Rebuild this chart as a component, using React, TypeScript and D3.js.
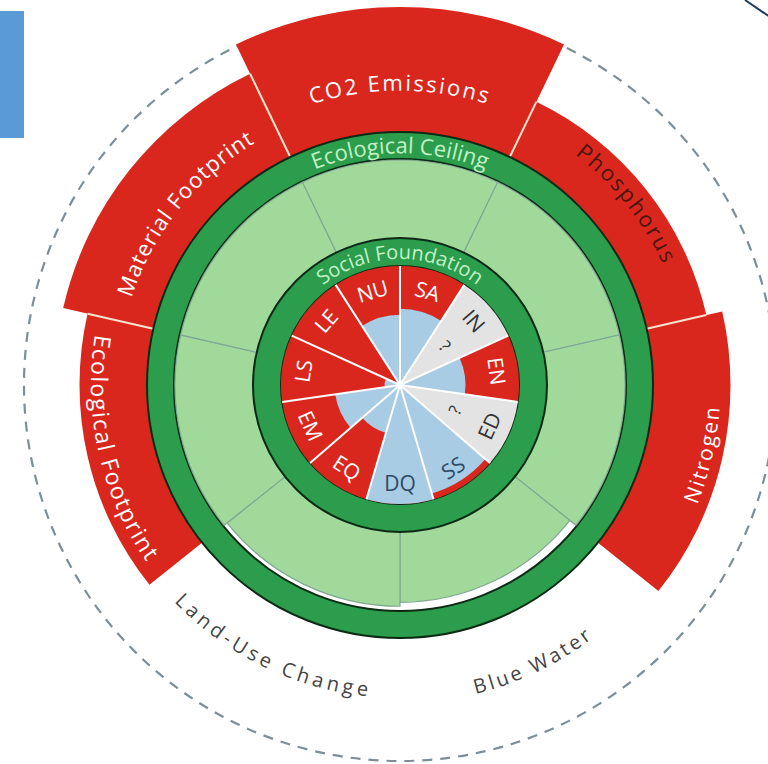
import React from "react";
import * as d3 from "d3";

const W = 768;
const H = 764;
const cx = 400;
const cy = 385;

// planetary boundaries, clockwise from the top
const boundaryNames = ["CO2 Emissions", "Phosphorus", "Nitrogen", "Blue Water", "Land-Use Change", "Ecological Footprint", "Material Footprint"];
// pressure relative to the boundary (1 = at the ecological ceiling)
const boundaryValues = [2.0, 1.49, 1.62, 0.89, 0.94, 1.54, 1.74];
const boundaryLabelColor = ["#fff", "#4a1612", "#fff", "#454545", "#454545", "#fff", "#fff"];

// social foundation, clockwise from the top
const socialCodes = ["SA", "IN", "EN", "ED", "SS", "DQ", "EQ", "EM", "LS", "LE", "NU"];
// share of the social threshold achieved, null = no data
const socialValues = [0.64, null, 0.55, null, 0.95, 1.0, 0.42, 0.55, 0.13, 0.04, 0.59];

const RED = "#da271d";
const DARK_GREEN = "#2b9d4c";
const LIGHT_GREEN = "#a1d99b";
const BLUE = "#a7cce3";
const GREY = "#e3e3e3";
const FONT = "'Open Sans', 'Noto Sans', sans-serif";

const rad = (deg: number) => (deg * Math.PI) / 180;
const pt = (r: number, deg: number) => [r * Math.sin(rad(deg)), -r * Math.cos(rad(deg))];

// arc for textPath; flip = read counter-clockwise (letter tops toward centre)
function arcPath(r: number, a0: number, a1: number, flip = false) {
  const [x0, y0] = pt(r, a0);
  const [x1, y1] = pt(r, a1);
  const large = a1 - a0 > 180 ? 1 : 0;
  return flip
    ? `M${x1},${y1} A${r},${r} 0 ${large} 0 ${x0},${y0}`
    : `M${x0},${y0} A${r},${r} 0 ${large} 1 ${x1},${y1}`;
}

export default function App() {
  const nB = boundaryNames.length;
  const nS = socialCodes.length;
  const step = 360 / nB;

  const ecoAngle = d3.scaleLinear().domain([0, nB]).range([-step / 2, 360 - step / 2]);
  const socAngle = d3.scaleLinear().domain([0, nS]).range([0, 360]);

  const rSocial = d3.scaleLinear().domain([0, 1]).range([0, 119]);
  const rSafe = d3.scaleLinear().domain([0, 1]).range([147, 226]);
  const rOver = d3.scaleLinear().domain([1, 2]).range([253, 378]);

  const arc = d3.arc<any>();
  const mk = (r0: number, r1: number, a0: number, a1: number) =>
    arc({ innerRadius: r0, outerRadius: r1, startAngle: rad(a0), endAngle: rad(a1) }) as string;

  const outerR = boundaryValues.map((v) => (v > 1 ? rOver(v) : 0));

  // label settings for the boundary names
  const bLabel = [
    { r: 302, fs: 22, ls: 2.2 },
    { r: 297, fs: 22, ls: 2 },
    { r: 313, fs: 21, ls: 2 },
    { r: 311, fs: 20, ls: 3 },
    { r: 306, fs: 20, ls: 4 },
    { r: 301, fs: 23, ls: 1.5 },
    { r: 290, fs: 22, ls: 1 },
  ];

  return (
    <svg width={W} height={H} style={{ position: "absolute", left: 0, top: 0, background: "#fff" }} fontFamily={FONT}>
      <rect x={0} y={11} width={24} height={127} fill="#5b9bd5" />
      <line x1={745} y1={0} x2={770} y2={17} stroke="#1f3a58" strokeWidth={2} />
      <g transform={`translate(${cx},${cy})`}>
        <circle r={376} fill="none" stroke="#7c8e98" strokeWidth={2.2} strokeDasharray="10 8" />

        {/* overshoot wedges */}
        {boundaryValues.map((v, i) =>
          v > 1 ? <path key={"o" + i} d={mk(252, rOver(v), ecoAngle(i), ecoAngle(i + 1))} fill={RED} /> : null
        )}
        {boundaryValues.map((v, i) => {
          const prev = outerR[(i - 1 + nB) % nB];
          const r1 = Math.min(prev, outerR[i]);
          if (r1 <= 0) return null;
          const [x0, y0] = pt(253, ecoAngle(i));
          const [x1, y1] = pt(r1, ecoAngle(i));
          return <line key={"os" + i} x1={x0} y1={y0} x2={x1} y2={y1} stroke="#f7e3cc" strokeWidth={2} />;
        })}

        {/* ecological ceiling ring */}
        <path d={mk(226, 253, 0, 360)} fill={DARK_GREEN} stroke="#0d2b14" strokeWidth={2} />

        {/* safe space wedges */}
        {boundaryValues.map((v, i) => (
          <path key={"s" + i} d={mk(147, v >= 1 ? 225 : rSafe(v), ecoAngle(i), ecoAngle(i + 1))} fill={LIGHT_GREEN} stroke="#7fa893" strokeWidth={1.2} />
        ))}

        {/* social foundation ring */}
        <path d={mk(119, 147, 0, 360)} fill={DARK_GREEN} stroke="#0d2b14" strokeWidth={2} />

        {/* social wedges */}
        {socialValues.map((v, i) => (
          <path key={"b" + i} d={mk(0, 119, socAngle(i), socAngle(i + 1))} fill={v === null ? GREY : RED} />
        ))}
        {socialValues.map((v, i) =>
          v === null ? null : <path key={"a" + i} d={mk(0, rSocial(v), socAngle(i), socAngle(i + 1))} fill={BLUE} />
        )}
        {socialCodes.map((c, i) => {
          const [x, y] = pt(119, socAngle(i));
          return <line key={"sl" + i} x1={0} y1={0} x2={x} y2={y} stroke="#fff" strokeWidth={2} />;
        })}
        {socialCodes.map((c, i) => {
          const m = (socAngle(i) + socAngle(i + 1)) / 2;
          const rot = m > 90 && m < 270 ? m - 180 : m;
          const v = socialValues[i];
          const col = v === null ? "#333" : v > 0.9 ? "#2d4a66" : "#fff";
          const [x, y] = pt(98, m);
          const [qx, qy] = pt(60, m);
          return (
            <g key={"t" + i}>
              <text transform={`translate(${x},${y}) rotate(${rot})`} textAnchor="middle" dominantBaseline="central" fontSize={21} fill={col}>
                {c}
              </text>
              {v === null && (
                <text transform={`translate(${qx},${qy}) rotate(${rot})`} textAnchor="middle" dominantBaseline="central" fontSize={17} fill="#333">
                  ?
                </text>
              )}
            </g>
          );
        })}

        {/* ring titles */}
        <defs>
          <path id="socRing" d={arcPath(133 - 7, -70, 70)} />
          <path id="ecoRing" d={arcPath(239.5 - 7.7, -40, 40)} />
          {boundaryNames.map((n, i) => {
            const m = (ecoAngle(i) + ecoAngle(i + 1)) / 2;
            const flip = m > 70 && m < 290;
            const L = bLabel[i];
            const rb = flip ? L.r + 0.35 * L.fs : L.r - 0.35 * L.fs;
            return <path key={"p" + i} id={"bp" + i} d={arcPath(rb, m - 45, m + 45, flip)} />;
          })}
        </defs>
        <text fontSize={20} fill="#c2f1c6">
          <textPath href="#socRing" startOffset="50%" textAnchor="middle">Social Foundation</textPath>
        </text>
        <text fontSize={22} fill="#c2f1c6">
          <textPath href="#ecoRing" startOffset="50%" textAnchor="middle">Ecological Ceiling</textPath>
        </text>
        {boundaryNames.map((n, i) => (
          <text key={"bt" + i} fontSize={bLabel[i].fs} fill={boundaryLabelColor[i]} letterSpacing={bLabel[i].ls}>
            <textPath href={"#bp" + i} startOffset="50%" textAnchor="middle">{n}</textPath>
          </text>
        ))}
      </g>
    </svg>
  );
}
